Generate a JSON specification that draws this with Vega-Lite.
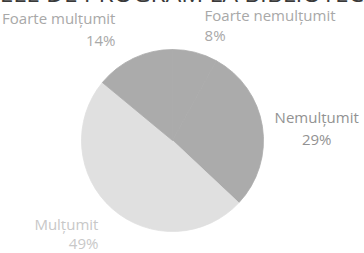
{
  "$schema": "https://vega.github.io/schema/vega-lite/v6.json",
  "autosize": {"type": "none"},
  "width": 345,
  "height": 225,
  "padding": {"left": 0, "top": 28, "right": 19, "bottom": 0},
  "background": "white",
  "title": {
    "text": "ORELE DE PROGRAM LA BIBLIOTECĂ",
    "fontSize": 24.5,
    "font": "Open Sans",
    "fontWeight": "normal",
    "color": "#3a3a3a",
    "baseline": "alphabetic",
    "offset": -18,
    "anchor": "middle"
  },
  "data": {
    "values": [
      {"cat": "Foarte nemulțumit", "pct": 8},
      {"cat": "Nemulțumit", "pct": 29},
      {"cat": "Mulțumit", "pct": 49},
      {"cat": "Foarte mulțumit", "pct": 14}
    ]
  },
  "transform": [
    {"window": [{"op": "row_number", "as": "idx"}]},
    {"stack": "pct", "groupby": [], "sort": [{"field": "idx", "order": "ascending"}], "as": ["t0", "t1"]},
    {"calculate": "(datum.t0 + datum.t1) / 2", "as": "tm"},
    {"calculate": "datum.cat + '\\n' + datum.pct + '%'", "as": "label"}
  ],
  "layer": [
    {
      "mark": {"type": "arc", "outerRadius": 91, "strokeWidth": 0.8},
      "encoding": {
        "theta": {"field": "t0", "type": "quantitative", "scale": {"domain": [0, 100]}},
        "theta2": {"field": "t1"},
        "color": {
          "field": "cat",
          "type": "nominal",
          "scale": {
            "domain": ["Foarte nemulțumit", "Nemulțumit", "Mulțumit", "Foarte mulțumit"],
            "range": ["#ababab", "#ababab", "#e0e0e0", "#ababab"]
          },
          "legend": null
        },
        "stroke": {
          "field": "cat",
          "type": "nominal",
          "scale": {
            "domain": ["Foarte nemulțumit", "Nemulțumit", "Mulțumit", "Foarte mulțumit"],
            "range": ["#ababab", "#ababab", "#e0e0e0", "#ababab"]
          },
          "legend": null
        }
      }
    },
    {
      "transform": [{"filter": "datum.cat == 'Foarte nemulțumit'"}],
      "mark": {"type": "text", "radius": 129, "align": "left", "baseline": "middle", "lineBreak": "\n", "lineHeight": 20, "font": "Open Sans", "fontSize": 15, "color": "#a8a8a8"},
      "encoding": {
        "theta": {"field": "tm", "type": "quantitative", "scale": {"domain": [0, 100]}},
        "text": {"field": "label"}
      }
    },
    {
      "transform": [{"filter": "datum.cat == 'Nemulțumit'"}],
      "mark": {"type": "text", "radius": 146, "align": "center", "baseline": "middle", "lineBreak": "\n", "lineHeight": 22, "font": "Open Sans", "fontSize": 15, "color": "#929292"},
      "encoding": {
        "theta": {"field": "tm", "type": "quantitative", "scale": {"domain": [0, 100]}},
        "text": {"field": "label"}
      }
    },
    {
      "transform": [{"filter": "datum.cat == 'Mulțumit'"}],
      "mark": {"type": "text", "radius": 112, "align": "right", "baseline": "middle", "lineBreak": "\n", "lineHeight": 19, "font": "Open Sans", "fontSize": 15, "color": "#c8c8c8"},
      "encoding": {
        "theta": {"field": "tm", "type": "quantitative", "scale": {"domain": [0, 100]}},
        "text": {"field": "label"}
      }
    },
    {
      "transform": [{"filter": "datum.cat == 'Foarte mulțumit'"}],
      "mark": {"type": "text", "radius": 134, "align": "right", "baseline": "middle", "lineBreak": "\n", "lineHeight": 22, "font": "Open Sans", "fontSize": 15, "color": "#a8a8a8"},
      "encoding": {
        "theta": {"field": "tm", "type": "quantitative", "scale": {"domain": [0, 100]}},
        "text": {"field": "label"}
      }
    }
  ]
}
